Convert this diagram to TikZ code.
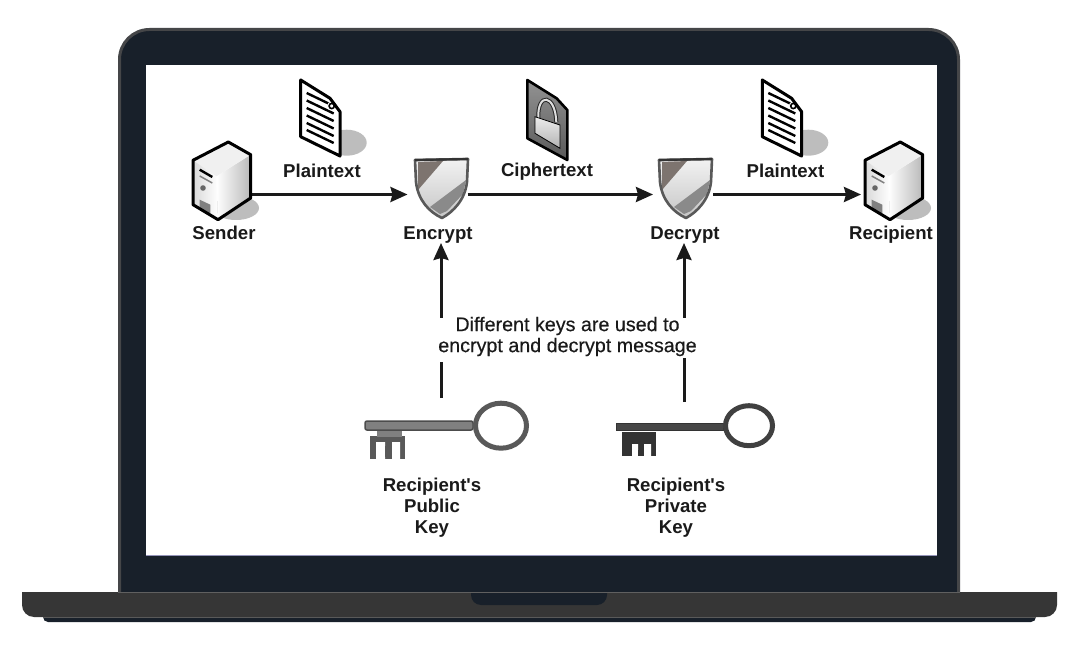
\documentclass[tikz,border=0pt]{standalone}
\usepackage{fontspec}
\setmainfont{Liberation Sans}[Ligatures=TeXOff]
\usetikzlibrary{arrows.meta}
\definecolor{lid}{HTML}{18202A}
\definecolor{rim}{HTML}{454648}
\definecolor{basecol}{HTML}{363636}
\definecolor{shadowcol}{HTML}{BDBDBD}
\definecolor{ink}{HTML}{1A1A1A}
\definecolor{shieldtop}{HTML}{7D746F}
\definecolor{shieldlow}{HTML}{8A8A8A}
\tikzset{
  lab/.style={font=\bfseries\fontsize{18.6}{21}\selectfont,text=ink,inner sep=0pt,align=center,anchor=base},
  msg/.style={font=\fontsize{19.7}{21}\selectfont\addfontfeature{FakeBold=0.35},text=ink,align=center,inner sep=0pt},
  anchorbox/.style={inner sep=0pt,outer sep=0pt},
  link/.style={line width=3pt,ink},
  arr/.style={line width=3pt,ink,-{Stealth[length=17pt,width=15pt,inset=2pt]}},
  outline/.style={line width=3pt,draw=black,line join=round}
}
\newcommand{\servericon}[2]{%
\begin{scope}[shift={(#1,#2)}]
  \fill[shadowcol] (43,66) ellipse [x radius=23,y radius=12];
  \shade[left color=white,right color=gray!55] (23.3,34.3) -- (57.7,12.7) -- (57.7,56) -- (25,77.7) -- cycle;
  \fill[gray!12] (0,18.3) -- (35.3,0) -- (57.7,12.7) -- (23.3,34.3) -- cycle;
  \shade[left color=gray!30,right color=white] (0,18.3) -- (23.3,34.3) -- (25,77.7) -- (0,62.7) -- cycle;
  \draw[line width=2.4pt,black] (6.7,27.7) -- (19.3,35);
  \draw[line width=1.5pt,gray] (6.7,34) -- (19.3,41);
  \fill[gray!80!black] (10,46) circle [radius=2.8];
  \fill[gray] (6.7,57.7) -- (17.3,62.7) -- (17.3,71.7) -- (6.7,66) -- cycle;
  \draw[line width=3pt,black,line join=round] (35.3,0) -- (57.7,12.7) -- (57.7,56) -- (25,77.7) -- (0,62.7) -- (0,18.3) -- cycle;
\end{scope}}
\newcommand{\docicon}[2]{%
\begin{scope}[shift={(#1,#2)}]
  \fill[shadowcol] (46,62.7) ellipse [x radius=20,y radius=13];
  \fill[white] (0,0) -- (29.3,18.3) -- (39.3,31.7) -- (39.3,76) -- (0,56.7) -- cycle;
  \foreach \yy in {13,20.5,28,35.5,43,50} \draw[line width=2.4pt,black] (6,\yy) -- (33,\yy+13);
  \fill[white] (31,26) circle [radius=4.5];
  \draw[line width=1.6pt,black] (31,26) circle [radius=2.6];
  \draw[outline] (0,0) -- (29.3,18.3) -- (39.3,31.7) -- (39.3,76) -- (0,56.7) -- cycle;
\end{scope}}
\newcommand{\shieldicon}[2]{%
\begin{scope}[shift={(#1,#2)}]
  \def\shieldpath{(0,0) -- (53,-1) -- (52,22) .. controls (50,40) and (38,52) .. (27,58) .. controls (14,52) and (3,40) .. (1,22) -- cycle}
  \shade[top color=gray!10,bottom color=gray!45] \shieldpath;
  \fill[shieldtop] (3,2) -- (28,1) -- (3,30) -- cycle;
  \fill[shieldlow] (51,20) -- (48,34) -- (32,51) -- (25,54) -- (15,47) -- cycle;
  \draw[line width=2.6pt,draw=black!65,line join=round] \shieldpath;
  \draw[line width=2.2pt,black!80] (0,0) -- (53,-1);
\end{scope}}
\newcommand{\lockicon}[2]{%
\begin{scope}[shift={(#1,#2)}]
  \shade[top color=gray!85,bottom color=black!65] (0,0) -- (29.3,18.3) -- (40,30) -- (40,80) -- (0,58.3) -- cycle;
  \draw[line width=4pt,black!85] (11,38) .. controls (10,12) and (28,14) .. (29,42);
  \draw[line width=2pt,gray!25] (11,38) .. controls (10,12) and (28,14) .. (29,42);
  \shade[top color=gray!15,bottom color=gray!60,draw=black,line width=.8pt] (7.7,36.7) -- (32.7,45) -- (32.7,68.3) -- (7.7,53.3) -- cycle;
  \draw[line width=2.6pt,black,line join=round] (0,0) -- (29.3,18.3) -- (40,30) -- (40,80) -- (0,58.3) -- cycle;
\end{scope}}
\begin{document}
\begin{tikzpicture}[x=1pt,y=-1pt]
\useasboundingbox (0,0) rectangle (1080,663);
% laptop
\fill[white] (0,0) rectangle (1080,663);
\draw[fill=lid,draw=rim,line width=3pt,rounded corners=30pt] (119.5,593) -- (119.5,29.5) -- (958.5,29.5) -- (958.5,593);
\fill[white] (146,65) rectangle (937,555);
\draw[line width=1pt,color=blue!20!gray!70] (146,555) -- (937,555);
\draw[fill=lid,draw=none,rounded corners=5pt] (43,612) -- (43,622) -- (1036,622) -- (1036,612) -- cycle;
\fill[basecol,rounded corners=12pt] (22,592) [sharp corners] -- (1057,592) [rounded corners=12pt] -- (1057,617) -- (22,617) [sharp corners] -- cycle;
\draw[line width=1pt,gray!70!black] (43,617.5) -- (1036,617.5);
\draw[line width=1pt,gray!75!black] (118,592.3) -- (960,592.3);
\fill[lid] (471,592.8) [rounded corners=10pt] -- (471,605) -- (607,605) [sharp corners] -- (607,592.8) -- cycle;
\draw[line width=1pt,gray!75!black] (471,592.3) -- (607,592.3);
% anchor nodes
\node[anchorbox,minimum width=58pt,minimum height=60pt] (sender) at (222,194.5) {};
\node[anchorbox,minimum width=60pt,minimum height=97pt] (encrypt) at (437.5,194.5) {};
\node[anchorbox,minimum width=60pt,minimum height=97pt] (decrypt) at (683,194.5) {};
\node[anchorbox,minimum width=58pt,minimum height=60pt] (recipient) at (890,194.5) {};
\coordinate (pubtail) at (441,398);
\coordinate (pubgaplow) at (441,362);
\coordinate (pubgaphigh) at (441,318);
\coordinate (privtail) at (684,402);
\coordinate (privgaplow) at (684,358);
\coordinate (privgaphigh) at (684,318);
% connectors
\draw[arr] (sender.east) -- (encrypt.west);
\draw[arr] (encrypt.east) -- (decrypt.west);
\draw[arr] (decrypt.east) -- (recipient.west);
\draw[link] (pubtail) -- (pubgaplow);
\draw[arr] (pubgaphigh) -- (pubgaphigh |- encrypt.south);
\draw[link] (privtail) -- (privgaplow);
\draw[arr] (privgaphigh) -- (privgaphigh |- decrypt.south);
% icons
\servericon{193}{142}
\servericon{865}{142}
\docicon{300.7}{80}
\docicon{762.3}{80}
\lockicon{527.3}{80}
\shieldicon{415}{160}
\shieldicon{659}{160}
% public key
\fill[black!65] (370,436) rectangle (405,459);
\fill[white] (376,442) rectangle (385,459) (392,442) rectangle (400,459);
\fill[black!65] (385,446) rectangle (392,457);
\fill[gray] (377,430) rectangle (402,437);
\draw[line width=1.5pt,black!70,fill=gray,rounded corners=2pt] (365,421) rectangle (473,430);
\draw[line width=5pt,black!65] (501,425.7) ellipse [x radius=25.5,y radius=22.5];
% private key
\fill[black!80] (622,432) rectangle (656,456);
\fill[white] (632,444) rectangle (638,456) (644,444) rectangle (651,456);
\fill[black!80] (638,450) rectangle (644,456);
\draw[line width=1pt,black!80,fill=black!72] (616,423) rectangle (723,430);
\draw[line width=5pt,black!75] (749,425.7) ellipse [x radius=23.5,y radius=20];
% labels
\node[lab] (lp1) at (322,177.5) {Plaintext};
\node[lab] (lc) at (547,177) {Ciphertext};
\node[lab] (lp2) at (785.5,177.5) {Plaintext};
\node[lab] (ls) at (224,240) {Sender};
\node[lab] (le) at (438,240) {Encrypt};
\node[lab] (ld) at (685,240) {Decrypt};
\node[lab] (lr) at (891,240) {Recipient};
\node[msg] (message) at (567.5,336.5) {Different keys are used to\\encrypt and decrypt message};
\node[lab,anchor=center] (lpub) at (432,508) {Recipient's\\Public\\Key};
\node[lab,anchor=center] (lpriv) at (676,508) {Recipient's\\Private\\Key};
\end{tikzpicture}
\end{document}
